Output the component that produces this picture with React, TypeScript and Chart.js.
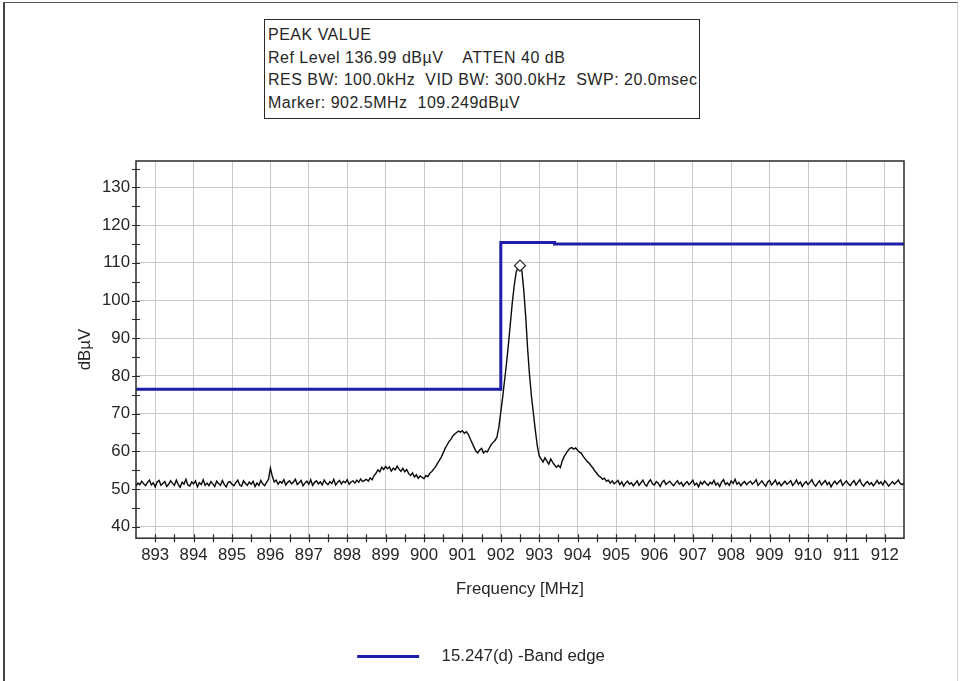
import React, { useEffect, useRef } from "react";
import { Chart, registerables } from "chart.js";

Chart.register(...registerables);

// ---- data ----
const FREQ_START = 892.5; // MHz, first sweep point
const FREQ_STEP = 0.05; // MHz between sweep points

// Measured trace (dBµV), one row per MHz starting at 892.5
const TRACE_DBUV: number[] = [
  50.8, 51.6, 51.2, 52.1, 51.4, 50.9, 51.8, 52.4, 51.1, 51.7, 50.6, 51.9, 52.3, 51.0, 51.5, 52.0, 50.7, 51.3, 52.2, 51.6,
  51.0, 52.4, 51.2, 50.5, 51.8, 51.3, 52.6, 51.1, 50.8, 51.9, 51.4, 52.2, 50.6, 51.7, 51.2, 52.5, 51.0, 51.6, 50.9, 52.0,
  51.4, 50.7, 52.1, 51.5, 51.0, 52.3, 51.2, 50.6, 51.8, 52.0, 51.3, 50.9, 51.7, 52.4, 51.1, 50.8, 52.2, 51.5, 51.0, 51.9,
  51.3, 52.1, 50.7, 51.6, 51.0, 52.3, 51.4, 50.9, 51.8, 52.6, 55.6, 53.4, 51.9, 52.4, 51.3, 52.0, 51.6, 52.5, 51.1, 51.8,
  52.2, 51.4, 51.9, 52.6, 51.2, 51.7, 52.3, 50.9, 51.6, 52.1, 51.3, 52.5, 51.0, 51.8, 52.2, 51.4, 51.9, 51.1, 52.4, 51.6,
  51.2, 52.0, 51.5, 52.6, 51.1, 51.8, 52.3, 51.4, 52.1, 51.7, 52.5, 51.3, 51.9, 52.2, 51.6, 52.4, 51.8, 52.7, 52.0, 52.3,
  52.6, 52.1, 53.0, 52.5, 53.6, 54.2, 55.1, 54.6, 55.8, 55.2, 56.0, 55.4, 55.9, 54.8, 55.6, 55.1, 56.1, 55.3, 54.7, 55.5,
  54.6, 55.2, 54.1, 53.6, 54.3, 53.2, 53.8, 52.9, 53.5, 53.1, 52.8, 53.6, 53.3, 54.2, 54.6, 55.3, 55.9, 56.8, 57.6, 58.5,
  59.6, 60.8, 61.7, 62.6, 63.2, 64.1, 64.6, 65.0, 65.4, 65.1, 65.5, 64.8, 65.2, 64.6, 63.4, 62.3, 61.2, 60.1, 59.6, 60.4,
  60.8, 59.6, 60.1, 59.9, 60.9, 61.8, 62.4, 62.9, 63.8, 66.5, 70.5, 74.5, 79.0, 83.5, 88.5, 94.0, 99.5, 104.0, 107.5, 108.8,
  109.25, 107.8, 102.5, 95.5, 87.0, 80.0, 74.5, 70.0, 65.5, 61.5, 58.8, 58.0, 57.2, 58.3, 57.4, 56.6, 58.0, 57.1, 56.4, 55.8,
  56.3, 55.7, 57.5, 58.6, 59.5, 60.2, 60.8, 61.0, 60.6, 60.9, 60.3, 59.8, 59.5, 58.6, 58.0, 57.3, 56.9, 56.2, 55.6, 54.8,
  54.2, 53.5, 53.2, 52.6, 52.9, 52.1, 52.4, 51.6, 52.2, 51.4, 51.8, 52.3, 51.2, 51.9, 50.8, 51.6, 52.1, 51.3, 51.7, 50.9,
  51.5, 52.2, 51.0, 51.7, 52.4, 51.3, 50.8, 51.9, 52.5, 51.4, 51.1, 52.0, 51.6, 50.7, 51.8, 52.3, 51.2, 51.7, 52.1, 51.4,
  50.9, 51.6, 52.2, 51.3, 51.8, 50.8, 51.5, 52.0, 51.2, 51.7, 52.4, 51.1, 51.6, 50.6, 51.9, 51.3, 52.1, 51.5, 51.0, 51.8,
  51.4, 52.3, 51.1, 51.6, 50.7, 51.9, 52.5, 51.2, 51.7, 51.0, 52.2, 51.5, 52.6, 51.3, 51.8, 50.9, 51.6, 52.0, 51.2, 51.7,
  52.1, 51.3, 51.8, 52.5, 51.0, 51.6, 52.2, 51.4, 50.8, 51.9, 52.3, 51.1, 51.7, 52.4, 51.2, 51.8, 50.9, 51.5, 52.1, 51.3,
  51.7, 52.2, 51.0, 51.6, 52.4, 51.3, 51.9, 50.7, 51.5, 52.0, 51.2, 51.8, 52.5, 51.4, 50.8, 51.6, 52.2, 51.1, 51.7, 52.3,
  51.2, 51.8, 50.6, 51.5, 52.1, 51.3, 51.9, 52.4, 51.0, 51.6, 52.2, 51.4, 50.9, 51.7, 52.3, 51.1, 51.8, 52.5, 51.3, 50.8,
  51.6, 52.0, 51.2, 51.7, 50.9, 51.5, 52.3, 51.4, 51.9, 51.1, 52.2, 51.6, 50.8, 51.4, 52.0, 51.3, 51.8, 52.4, 51.5, 51.2,
  51.6,
];

// Band-edge limit line
const LIMIT_FREQ = [892.5, 902.0, 902.0, 903.4, 903.4, 912.5];
const LIMIT_DBUV = [76.5, 76.5, 115.4, 115.4, 115.0, 115.0];

// Peak marker
const MARKER_FREQ = [902.5];
const MARKER_DBUV = [109.249];

// Axes
const X_TICKS = [893, 894, 895, 896, 897, 898, 899, 900, 901, 902, 903, 904, 905, 906, 907, 908, 909, 910, 911, 912];
const Y_TICKS = [40, 50, 60, 70, 80, 90, 100, 110, 120, 130];
const X_MIN = 892.5;
const X_MAX = 912.5;
const Y_MIN = 36.99;
const Y_MAX = 136.99;

const INFO_LINES = [
  "PEAK VALUE",
  "Ref Level 136.99 dBµV    ATTEN 40 dB",
  "RES BW: 100.0kHz  VID BW: 300.0kHz  SWP: 20.0msec",
  "Marker: 902.5MHz  109.249dBµV",
];
const LEGEND_LABEL = "15.247(d) -Band edge";
const X_TITLE = "Frequency [MHz]";
const Y_TITLE = "dBµV";

const FONT = "Arial, 'Liberation Sans', sans-serif";
const FONT_SIZE = 16.8;
const TEXT_COLOR = "#262626";
const BLUE = "#1e1ea8";

const framePlugin = {
  id: "frameAndTicks",
  afterDatasetsDraw(chart: any) {
    const { ctx, chartArea, scales } = chart;
    const xs = scales.x;
    const ys = scales.y;
    ctx.save();
    ctx.strokeStyle = "#2a2a2a";
    ctx.lineWidth = 1.5;
    ctx.strokeRect(chartArea.left, chartArea.top, chartArea.right - chartArea.left, chartArea.bottom - chartArea.top);
    ctx.lineWidth = 1.2;
    ctx.beginPath();
    // x ticks every 0.5 MHz, crossing the bottom axis
    for (let v = Math.ceil(X_MIN * 2) / 2; v <= X_MAX + 1e-9; v += 0.5) {
      const px = Math.round(xs.getPixelForValue(v)) + 0.5;
      if (px <= chartArea.left + 1 || px >= chartArea.right - 1) continue;
      ctx.moveTo(px, chartArea.bottom - 4);
      ctx.lineTo(px, chartArea.bottom + 4);
    }
    // y ticks every 5 dB, crossing the left axis
    for (let v = Math.ceil(Y_MIN / 5) * 5; v <= Y_MAX; v += 5) {
      const py = Math.round(ys.getPixelForValue(v)) + 0.5;
      ctx.moveTo(chartArea.left - 4, py);
      ctx.lineTo(chartArea.left + 4, py);
    }
    ctx.stroke();
    ctx.restore();
  },
};

export default function App() {
  const canvasRef = useRef<HTMLCanvasElement | null>(null);

  useEffect(() => {
    document.body.style.margin = "0";
    const canvas = canvasRef.current;
    if (!canvas) return;

    const tracePoints = TRACE_DBUV.map((y, i) => ({ x: FREQ_START + i * FREQ_STEP, y }));
    const limitPoints = LIMIT_FREQ.map((x, i) => ({ x, y: LIMIT_DBUV[i] }));
    const markerPoints = MARKER_FREQ.map((x, i) => ({ x, y: MARKER_DBUV[i] }));

    const chart = new Chart(canvas, {
      type: "line",
      data: {
        datasets: [
          {
            label: "   " + LEGEND_LABEL,
            data: limitPoints,
            borderColor: BLUE,
            backgroundColor: BLUE,
            borderWidth: 3,
            pointRadius: 0,
            pointStyle: "line",
            tension: 0,
            order: 2,
          },
          {
            label: "trace",
            data: tracePoints,
            borderColor: "#0a0a0a",
            borderWidth: 1.4,
            pointRadius: 0,
            tension: 0,
            order: 3,
          },
          {
            label: "marker",
            data: markerPoints,
            showLine: false,
            pointStyle: "rectRot",
            pointRadius: 5.5,
            borderColor: "#222222",
            backgroundColor: "#ffffff",
            borderWidth: 1.2,
            order: 1,
          },
        ],
      },
      options: {
        animation: false,
        responsive: false,
        maintainAspectRatio: false,
        parsing: false as any,
        layout: { padding: { top: 161, left: 58, right: 57, bottom: 6 } },
        plugins: {
          tooltip: { enabled: false },
          title: { display: false },
          legend: {
            display: true,
            position: "bottom",
            labels: {
              usePointStyle: true,
              pointStyleWidth: 62,
              padding: 10,
              color: TEXT_COLOR,
              font: { family: FONT, size: FONT_SIZE },
              filter: (item: any) => item.datasetIndex === 0,
            },
          },
        },
        scales: {
          x: {
            type: "linear",
            min: X_MIN,
            max: X_MAX,
            afterBuildTicks: (scale: any) => {
              scale.ticks = X_TICKS.map((v) => ({ value: v }));
            },
            afterFit: (scale: any) => {
              scale.height = 100;
            },
            ticks: {
              autoSkip: false,
              maxRotation: 0,
              padding: 7,
              color: TEXT_COLOR,
              font: { family: FONT, size: FONT_SIZE },
              callback: (v: any) => String(v),
            },
            grid: { color: "#c9c9c9", lineWidth: 1, drawTicks: false },
            border: { display: false },
            title: {
              display: true,
              text: X_TITLE,
              color: TEXT_COLOR,
              font: { family: FONT, size: FONT_SIZE },
              padding: { top: 0, bottom: 39 },
            },
          },
          y: {
            type: "linear",
            min: Y_MIN,
            max: Y_MAX,
            afterBuildTicks: (scale: any) => {
              scale.ticks = Y_TICKS.map((v) => ({ value: v }));
            },
            afterFit: (scale: any) => {
              scale.width = 78;
            },
            ticks: {
              autoSkip: false,
              padding: 6,
              color: TEXT_COLOR,
              font: { family: FONT, size: FONT_SIZE },
              callback: (v: any) => String(v),
            },
            grid: { color: "#c9c9c9", lineWidth: 1, drawTicks: false },
            border: { display: false },
            title: {
              display: true,
              text: Y_TITLE,
              color: TEXT_COLOR,
              font: { family: FONT, size: FONT_SIZE },
              padding: { top: 17, bottom: 0 },
            },
          },
        },
      },
      plugins: [framePlugin],
    });

    return () => chart.destroy();
  }, []);

  return (
    <div style={{ position: "relative", width: 961, height: 681, background: "#ffffff", overflow: "hidden" }}>
      <canvas ref={canvasRef} width={961} height={681} style={{ position: "absolute", left: 0, top: 0, width: 961, height: 681 }} />
      <div
        style={{
          position: "absolute",
          left: 3,
          top: 2,
          width: 955,
          height: 679,
          boxSizing: "border-box",
          borderTop: "1px solid #555",
          borderLeft: "2px solid #444",
          borderRight: "1px solid #d8d8d8",
          pointerEvents: "none",
        }}
      />
      <div
        style={{
          position: "absolute",
          left: 264,
          top: 19,
          width: 436,
          height: 100,
          boxSizing: "border-box",
          border: "1.5px solid #2a2a2a",
          background: "#ffffff",
          padding: "4px 0 0 3px",
          fontFamily: FONT,
          fontSize: 16,
          letterSpacing: "0.5px",
          lineHeight: "22.5px",
          color: TEXT_COLOR,
          whiteSpace: "pre",
        }}
      >
        {INFO_LINES.map((line, i) => (
          <div key={i}>{line}</div>
        ))}
      </div>
    </div>
  );
}
